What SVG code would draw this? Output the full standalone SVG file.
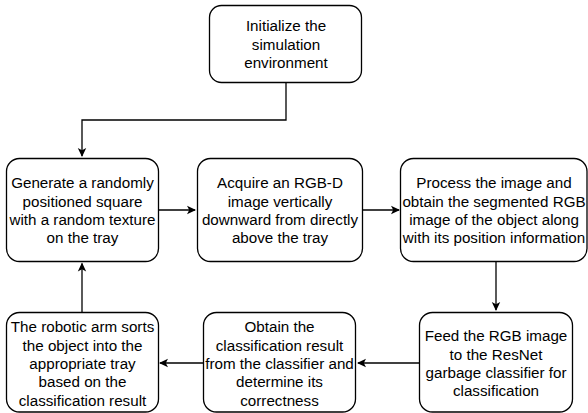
<svg xmlns="http://www.w3.org/2000/svg" width="588" height="413" viewBox="0 0 588 413">
<style>
.box{fill:#fff;stroke:#000;stroke-width:1.3}
.t{font-family:"Liberation Sans",Arial,sans-serif;font-size:15.2px;fill:#000;text-anchor:middle}
.c{fill:none;stroke:#000;stroke-width:1.3}
</style>
<defs>
<marker id="ah" markerWidth="10" markerHeight="10" refX="8" refY="5" orient="auto" markerUnits="userSpaceOnUse">
<path d="M0,0.8 L9,5 L0,9.2 L2.2,5 Z" fill="#000"/>
</marker>
</defs>
<rect width="588" height="413" fill="#fff"/>
<g id="connectors">
<path class="c" d="M286,82.5 V120 H82 V156" marker-end="url(#ah)"/>
<path class="c" d="M158.5,210 H195" marker-end="url(#ah)"/>
<path class="c" d="M362.5,210 H399" marker-end="url(#ah)"/>
<path class="c" d="M496,261.5 V310" marker-end="url(#ah)"/>
<path class="c" d="M419,363 H358" marker-end="url(#ah)"/>
<path class="c" d="M203,363 H160" marker-end="url(#ah)"/>
<path class="c" d="M82,312 V263.5" marker-end="url(#ah)"/>
</g>
<g id="n1">
<rect class="box" x="209.5" y="5.5" width="152" height="77" rx="12"/>
<text class="t" x="286" y="31.3">Initialize the</text>
<text class="t" x="286" y="49.6">simulation</text>
<text class="t" x="286" y="67.9">environment</text>
</g>
<g id="n2">
<rect class="box" x="6.5" y="158.5" width="152" height="103" rx="13"/>
<text class="t" x="82.5" y="188.3">Generate a randomly</text>
<text class="t" x="82.5" y="206.6">positioned square</text>
<text class="t" x="82.5" y="224.9">with a random texture</text>
<text class="t" x="82.5" y="243.2">on the tray</text>
</g>
<g id="n3">
<rect class="box" x="197.5" y="158.5" width="165" height="103" rx="13"/>
<text class="t" x="280" y="188.3">Acquire an RGB-D</text>
<text class="t" x="280" y="206.6">image vertically</text>
<text class="t" x="280" y="224.9">downward from directly</text>
<text class="t" x="280" y="243.2">above the tray</text>
</g>
<g id="n4">
<rect class="box" x="400.5" y="158.5" width="186.5" height="103" rx="13"/>
<text class="t" x="494" y="188.3">Process the image and</text>
<text class="t" x="494" y="206.6">obtain the segmented RGB</text>
<text class="t" x="494" y="224.9">image of the object along</text>
<text class="t" x="494" y="243.2">with its position information</text>
</g>
<g id="n5">
<rect class="box" x="419.5" y="312.5" width="153" height="99.5" rx="13"/>
<text class="t" x="496" y="341.3">Feed the RGB image</text>
<text class="t" x="496" y="359.6">to the ResNet</text>
<text class="t" x="496" y="377.9">garbage classifier for</text>
<text class="t" x="496" y="396.2">classification</text>
</g>
<g id="n6">
<rect class="box" x="203.5" y="312.5" width="152" height="99.5" rx="13"/>
<text class="t" x="279.5" y="332.3">Obtain the</text>
<text class="t" x="279.5" y="350.6">classification result</text>
<text class="t" x="279.5" y="368.9">from the classifier and</text>
<text class="t" x="279.5" y="387.2">determine its</text>
<text class="t" x="279.5" y="405.5">correctness</text>
</g>
<g id="n7">
<rect class="box" x="6.5" y="312.5" width="152" height="99.5" rx="13"/>
<text class="t" x="82.5" y="332.3">The robotic arm sorts</text>
<text class="t" x="82.5" y="350.6">the object into the</text>
<text class="t" x="82.5" y="368.9">appropriate tray</text>
<text class="t" x="82.5" y="387.2">based on the</text>
<text class="t" x="82.5" y="405.5">classification result</text>
</g>
</svg>
